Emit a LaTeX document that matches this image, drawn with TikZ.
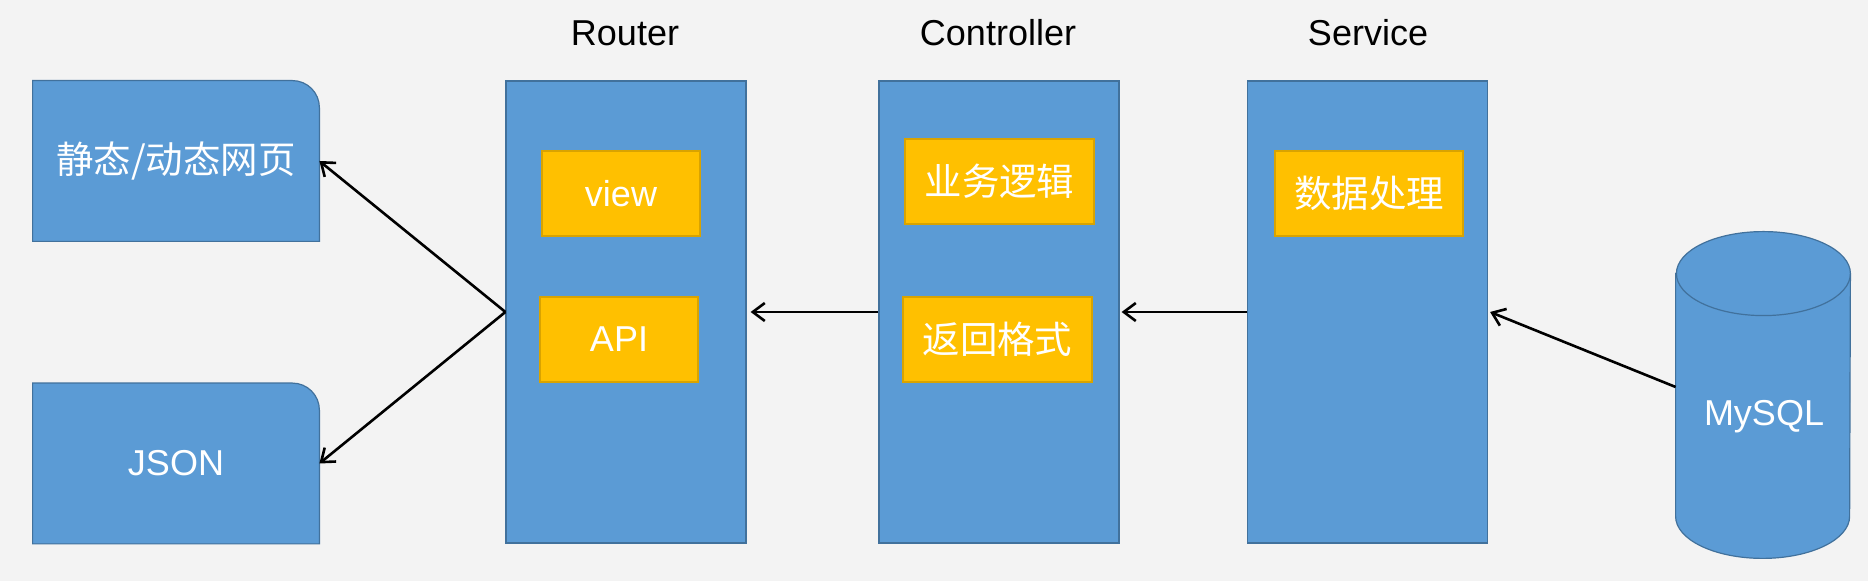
\documentclass[tikz,border=0pt]{standalone}
\usepackage{fontspec}
\setmainfont{Liberation Sans}
\newfontfamily\cjk{Noto Sans CJK SC}[Scale=1.04]
\usetikzlibrary{arrows.meta,backgrounds}
\definecolor{bgc}{HTML}{F3F3F3}
\definecolor{bluef}{HTML}{5B9BD5}
\definecolor{blued}{HTML}{41719C}
\definecolor{orf}{HTML}{FFC000}
\definecolor{ord}{HTML}{D9A300}
\begin{document}
\begin{tikzpicture}[x=1pt,y=1pt,
  txt/.style={font=\fontsize{18}{21}\selectfont},
  col/.style={draw=blued, fill=bluef, line width=0.6pt, minimum width=120pt, minimum height=231pt, inner sep=0pt},
  tag/.style={txt, draw=ord, fill=orf, line width=0.6pt, text=white, inner sep=0pt, minimum height=42.5pt},
  ttl/.style={txt, text=black, inner sep=0pt},
  sidebox/.style={txt, minimum width=143pt, minimum height=80pt, inner sep=0pt, text=white},
  sideshape/.style={fill=bluef, draw=blued, line width=0.6pt},
  conn/.style={-{Straight Barb[length=6pt,width=9pt]}, line width=1.3pt, black},
]
\begin{scope}[on background layer]
  \fill[bgc] (0,0) rectangle (934,290.5);
\end{scope}
\useasboundingbox (0,0) rectangle (934,290.5);

% side boxes
\node[sidebox] (b1) at (88,210) {\cjk 静态/动态网页};
\node[sidebox] (b2) at (88,58.75) {JSON};
\begin{scope}[on background layer]
  \foreach \b in {b1,b2}{
    \filldraw[sideshape] (\b.south west) -- (\b.north west) -- ([xshift=-13.5pt]\b.north east)
      arc[start angle=90, end angle=0, radius=13.5pt] -- (\b.south east) -- cycle;
  }
\end{scope}

% columns
\node[col] (rt) at (313,134.5) {};
\node[col] (ct) at (499.5,134.5) {};
\node[col] (sv) at (683.75,134.5) {};

% titles
\node[ttl] (trt) at (312.5,274) {Router};
\node[ttl] (tct) at (499,274) {Controller};
\node[ttl] (tsv) at (684,274) {Service};

% inner tags
\node[tag, minimum width=79pt] (view) at (310.5,193.75) {view};
\node[tag, minimum width=79pt] (api) at (309.5,120.75) {API};
\node[tag, minimum width=94.5pt] (biz) at (499.75,199.75) {\cjk 业务逻辑};
\node[tag, minimum width=94.5pt] (fmt) at (498.75,120.75) {\cjk 返回格式};
\node[tag, minimum width=94pt] (data) at (684.5,193.75) {\cjk 数据处理};

% database
\node[minimum width=87pt, minimum height=163pt, inner sep=0pt] (db) at (881.5,93) {};
\begin{scope}[on background layer]
  \filldraw[fill=bluef, draw=blued, line width=0.6pt]
    ([yshift=-21pt]db.north west) -- ([yshift=21pt]db.south west)
    arc[start angle=180, end angle=360, x radius=43.5pt, y radius=21pt]
    -- ([yshift=-21pt]db.north east)
    arc[start angle=0, end angle=180, x radius=43.5pt, y radius=21pt] -- cycle;
  \draw[blued, line width=0.6pt] ([yshift=-21pt]db.north east)
    arc[start angle=0, end angle=-180, x radius=43.5pt, y radius=21pt];
\end{scope}
\node[txt, text=white, inner sep=0pt] (dbl) at (882,82) {MySQL};

% connectors
\draw[conn] (rt.west) -- (b1.east);
\draw[conn] (rt.west) -- (b2.east);
\draw[conn] (ct.west) -- ([xshift=2pt]rt.east);
\draw[conn] (sv.west) -- ([xshift=1pt]ct.east);
\draw[conn] ([yshift=4pt]db.west) -- ([xshift=1pt]sv.east);
\end{tikzpicture}
\end{document}
